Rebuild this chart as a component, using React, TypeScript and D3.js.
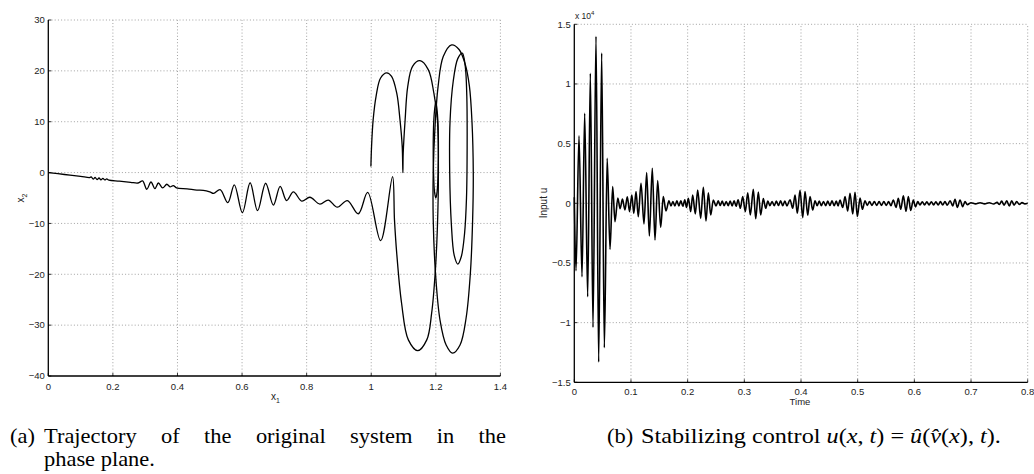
import React, { useLayoutEffect, useRef, useState } from 'react';
import * as d3 from 'd3';

type Pt = [number, number];

// ---- (a) phase plane axes ----
const phaseXTicks = [0, 0.2, 0.4, 0.6, 0.8, 1, 1.2, 1.4];
const phaseYTicks = [-40, -30, -20, -10, 0, 10, 20, 30];

// ---- (b) control axes (values in units of 10^4) ----
const controlXTicks = [0, 0.1, 0.2, 0.3, 0.4, 0.5, 0.6, 0.7, 0.8];
const controlYTicks = [-1.5, -1, -0.5, 0, 0.5, 1, 1.5];

// Trajectory (x1, x2): drift with ripples, lower lobe and the two upper arches
const driftPath: Pt[] = [
  [0, 0], [0.05, -0.38], [0.1, -0.75], [0.128, -0.98],
  [0.133, -0.85], [0.139, -1.3], [0.145, -0.95], [0.151, -1.4], [0.157, -1.05],
  [0.163, -1.45], [0.169, -1.15], [0.175, -1.45], [0.181, -1.25], [0.188, -1.5],
  [0.22, -1.68], [0.255, -1.92], [0.278, -2.05],
  [0.292, -1.65], [0.305, -3.28], [0.318, -1.85], [0.33, -3.15], [0.341, -2.05],
  [0.354, -3.0], [0.367, -2.3], [0.377, -2.8], [0.387, -2.55], [0.397, -3.0],
  [0.43, -3.2], [0.46, -3.45], [0.48, -3.5], [0.5, -3.8], [0.512, -4.1], [0.532, -3.35],
  [0.556, -5.9], [0.576, -2.4], [0.601, -7.9], [0.625, -2.0], [0.648, -7.5],
  [0.673, -2.1], [0.697, -6.4], [0.718, -2.7], [0.738, -5.5], [0.759, -3.8],
  [0.785, -5.6], [0.81, -4.85], [0.841, -6.2], [0.867, -5.4], [0.895, -6.8],
  [0.926, -5.5], [0.96, -8.1], [0.989, -3.9], [1.029, -13.4], [1.066, -0.8],
  [1.072, -9.3], [1.079, -15.9], [1.094, -25.7], [1.115, -32.9], [1.144, -35.0],
  [1.172, -32.9], [1.187, -27.7], [1.198, -19.8], [1.205, -10.6], [1.208, 0],
  [1.205, 10.4], [1.194, 15.6], [1.177, 20.2], [1.151, 22.0], [1.128, 20.9],
  [1.113, 16.9], [1.105, 10.4], [1.099, 3.8], [1.098, 0], [1.096, 5.1],
  [1.089, 10.4], [1.079, 15.6], [1.063, 18.9], [1.048, 19.6], [1.029, 18.6],
  [1.015, 15.0], [1.006, 10.4], [1.001, 5.1], [0.999, 1.2],
];

// Closed orbits near x1 = 1.2 .. 1.32
const outerOrbit: Pt[] = [
  [1.249, 25.1], [1.272, 24.2], [1.291, 21.3], [1.304, 17.0], [1.312, 10.0],
  [1.316, 0], [1.314, -9.3], [1.307, -19.8], [1.294, -28.5], [1.275, -33.9],
  [1.252, -35.5], [1.232, -33.9], [1.213, -29.0], [1.199, -19.8], [1.192, -9.3],
  [1.192, 0], [1.197, 8.4], [1.207, 16.9], [1.223, 22.8],
];
const innerOrbit: Pt[] = [
  [1.282, 23.5], [1.291, 21.0], [1.296, 15.0], [1.297, 5.0], [1.295, -5.0],
  [1.289, -12.0], [1.279, -16.5], [1.268, -18.0], [1.257, -16.3], [1.248, -10.0],
  [1.243, 0], [1.244, 10.0], [1.254, 18.0], [1.268, 22.4],
];
const narrowOrbit: Pt[] = [
  [1.2, 14.0], [1.205, 11.5], [1.208, 6.0], [1.207, 0], [1.204, -3.8],
  [1.2, -5.0], [1.196, -3.8], [1.193, 0], [1.192, 6.0], [1.195, 11.5],
];

// Control input u (time, value x 10^4), listed at its turning points
const controlInput: Pt[] = [
  [0.0, 0.05], [0.003, -0.565], [0.0083, 0.565], [0.0136, -0.616], [0.0183, 0.755],
  [0.0236, -0.783], [0.0283, 1.09], [0.033, -1.04], [0.0383, 1.4], [0.043, -1.33],
  [0.0483, 1.26], [0.053, -1.21], [0.058, 0.378], [0.063, -0.386], [0.0677, 0.14],
  [0.0718, -0.154], [0.0768, 0.045], [0.0808, -0.045], [0.085, 0.035], [0.0893, -0.055],
  [0.0935, 0.055], [0.0975, -0.07], [0.1015, 0.07], [0.105, -0.085],
  [0.1089, 0.098], [0.1129, -0.112], [0.1177, 0.168], [0.123, -0.173], [0.1277, 0.257],
  [0.1324, -0.274], [0.1376, 0.294], [0.1424, -0.308], [0.1471, 0.19], [0.1524, -0.201],
  [0.157, 0.056], [0.1618, -0.064],
  [0.167, 0.02], [0.1705, -0.022], [0.174, 0.015], [0.1775, -0.022], [0.181, 0.02],
  [0.1845, -0.022], [0.188, 0.022], [0.1915, -0.025], [0.195, 0.03], [0.198, -0.035],
  [0.2012, 0.042], [0.2054, -0.07], [0.2089, 0.07], [0.2135, -0.089], [0.2177, 0.112],
  [0.223, -0.126], [0.2277, 0.134], [0.2324, -0.148], [0.2365, 0.089], [0.2407, -0.098],
  [0.2453, 0.028], [0.25, -0.022],
  [0.254, 0.02], [0.2575, -0.018], [0.261, 0.018], [0.2645, -0.02], [0.268, 0.015],
  [0.2715, -0.02], [0.275, 0.018], [0.2785, -0.022], [0.282, 0.022], [0.2855, -0.025],
  [0.289, 0.03], [0.293, -0.042],
  [0.2971, 0.056], [0.3018, -0.07], [0.306, 0.089], [0.3106, -0.098], [0.3159, 0.117],
  [0.3201, -0.13], [0.3247, 0.095], [0.3289, -0.098], [0.3335, 0.04], [0.3377, -0.042],
  [0.3415, 0.018], [0.3452, -0.02], [0.349, 0.015], [0.3527, -0.02], [0.3565, 0.018],
  [0.3602, -0.018], [0.364, 0.02], [0.3677, -0.02], [0.3715, 0.018], [0.3752, -0.022],
  [0.3806, 0.03], [0.3854, -0.042], [0.3895, 0.07], [0.3935, -0.084], [0.3983, 0.108],
  [0.403, -0.12], [0.4071, 0.098], [0.4119, -0.1], [0.4159, 0.056], [0.4207, -0.056],
  [0.4248, 0.022],
  [0.4285, -0.02], [0.4322, 0.018], [0.436, -0.02], [0.4397, 0.015], [0.4435, -0.02],
  [0.4472, 0.018], [0.451, -0.018], [0.4547, 0.02], [0.4585, -0.02], [0.4622, 0.018],
  [0.4655, -0.022],
  [0.4688, 0.028], [0.4736, -0.035], [0.4777, 0.056], [0.4824, -0.065], [0.4865, 0.084],
  [0.4913, -0.09], [0.4953, 0.092], [0.4994, -0.11], [0.5042, 0.045], [0.5083, -0.05],
  [0.513, 0.022],
  [0.5168, -0.018], [0.521, 0.015], [0.5252, -0.018], [0.5294, 0.015], [0.5336, -0.018],
  [0.5378, 0.015], [0.542, -0.018], [0.5462, 0.015], [0.5504, -0.018], [0.5546, 0.015],
  [0.5588, -0.02],
  [0.5629, 0.028], [0.5677, -0.034], [0.5717, 0.042], [0.576, -0.05], [0.5806, 0.062],
  [0.5853, -0.068], [0.5894, 0.056], [0.5936, -0.06], [0.5982, 0.028], [0.602, -0.03],
  [0.606, 0.014], [0.61, -0.014], [0.614, 0.012], [0.618, -0.014], [0.622, 0.012],
  [0.626, -0.014], [0.63, 0.012], [0.634, -0.014], [0.638, 0.012], [0.642, -0.014],
  [0.646, 0.014], [0.65, -0.014], [0.654, 0.014], [0.658, -0.016],
  [0.663, 0.022], [0.6677, -0.022], [0.6718, 0.034], [0.6759, -0.034], [0.6806, 0.028],
  [0.6853, -0.028], [0.6894, 0.014], [0.6935, -0.012],
  [0.7, 0.005], [0.708, -0.005], [0.716, 0.005], [0.724, -0.005], [0.732, 0.005],
  [0.74, -0.006], [0.746, 0.008], [0.75, -0.01],
  [0.754, 0.018], [0.7583, -0.015], [0.763, 0.02], [0.7677, -0.022], [0.7718, 0.022],
  [0.7759, -0.015], [0.7806, 0.014], [0.7853, -0.01],
  [0.79, 0.006], [0.795, -0.005], [0.8, 0.0],
];

const SANS = "'Liberation Sans', Arial, Helvetica, sans-serif";
const SERIF = "'Liberation Serif', 'Times New Roman', serif";
const GRID = { stroke: '#8a8a8a', strokeWidth: 0.8, strokeDasharray: '1 2.2' };
const CAPTION_SIZE = 20.4;
const GLYPH_STRETCH = 1.1;

const fmt = (v: number) => String(v).replace('-', '\u2212');

export default function App() {
  // (a) scales
  const xA = d3.scaleLinear().domain([0, 1.4]).range([48.3, 500.4]);
  const yA = d3.scaleLinear().domain([-40, 30]).range([376, 20]);
  // (b) scales
  const xB = d3.scaleLinear().domain([0, 0.8]).range([574.3, 1027.7]);
  const yB = d3.scaleLinear().domain([-1.5, 1.5]).range([382.3, 24.3]);

  const openLine = d3.line<Pt>().x(d => xA(d[0])).y(d => yA(d[1])).curve(d3.curveCatmullRom.alpha(0.5));
  const closedLine = d3.line<Pt>().x(d => xA(d[0])).y(d => yA(d[1])).curve(d3.curveCatmullRomClosed.alpha(0.5));
  const controlLine = d3.line<Pt>().x(d => xB(d[0])).y(d => yB(d[1])).curve(d3.curveMonotoneX);

  // caption layout: the body of caption (a) is justified between x = 44 and x = 506
  const capA = useRef<SVGTextElement>(null);
  const capB = useRef<SVGTextElement>(null);
  const [wsA, setWsA] = useState(0);
  const [sxB, setSxB] = useState(GLYPH_STRETCH);
  useLayoutEffect(() => {
    if (capA.current) {
      const w = capA.current.getComputedTextLength();
      setWsA((462 / GLYPH_STRETCH - w) / 6);
    }
    if (capB.current) {
      const w = capB.current.getComputedTextLength();
      if (w > 0) setSxB(360 / w);
    }
  }, []);

  const [a0, a1] = xA.range();
  const [b0, b1] = xB.range();

  return (
    <div style={{ position: 'absolute', left: 0, top: 0 }}>
      <svg width={1034} height={474} style={{ display: 'block', background: '#fff' }}>
        {/* ---------- (a) ---------- */}
        <g>
          {phaseXTicks.filter(v => v > 0).map(v => (
            <line key={'gx' + v} x1={xA(v)} x2={xA(v)} y1={yA(-40)} y2={yA(30)} {...GRID} />
          ))}
          {phaseYTicks.filter(v => v > -40).map(v => (
            <line key={'gy' + v} x1={a0} x2={a1} y1={yA(v)} y2={yA(v)} {...GRID} />
          ))}
          <path d={openLine(driftPath) || ''} fill="none" stroke="#000" strokeWidth={1.3} strokeLinejoin="round" />
          <path d={closedLine(outerOrbit) || ''} fill="none" stroke="#000" strokeWidth={1.3} />
          <path d={closedLine(innerOrbit) || ''} fill="none" stroke="#000" strokeWidth={1.3} />
          <path d={closedLine(narrowOrbit) || ''} fill="none" stroke="#000" strokeWidth={1.3} />
          <line x1={a0} x2={a0} y1={yA(-40)} y2={yA(30)} stroke="#000" strokeWidth={1.3} />
          <line x1={a0} x2={a1} y1={yA(-40)} y2={yA(-40)} stroke="#000" strokeWidth={1.3} />
          {phaseYTicks.map(v => (
            <g key={'ty' + v}>
              <line x1={a0} x2={a0 + 3} y1={yA(v)} y2={yA(v)} stroke="#000" strokeWidth={0.8} />
              <text x={a0 - 3.5} y={yA(v)} dy="0.35em" textAnchor="end" fontFamily={SANS} fontSize={9.5} fill="#222">{fmt(v)}</text>
            </g>
          ))}
          {phaseXTicks.map(v => (
            <g key={'tx' + v}>
              <line x1={xA(v)} x2={xA(v)} y1={yA(-40)} y2={yA(-40) - 3} stroke="#000" strokeWidth={0.8} />
              <text x={xA(v)} y={389.5} textAnchor="middle" fontFamily={SANS} fontSize={9.5} fill="#222">{fmt(v)}</text>
            </g>
          ))}
          <text x={271} y={400} fontFamily={SANS} fontSize={10} fill="#222">
            x<tspan fontSize={7} dy={3}>1</tspan>
          </text>
          <text transform="translate(24,198) rotate(-90)" textAnchor="middle" fontFamily={SANS} fontSize={10} fill="#222">
            x<tspan fontSize={7} dy={3}>2</tspan>
          </text>
        </g>

        {/* ---------- (b) ---------- */}
        <g>
          {controlXTicks.filter(v => v > 0).map(v => (
            <line key={'gx' + v} x1={xB(v)} x2={xB(v)} y1={yB(-1.5)} y2={yB(1.5)} {...GRID} />
          ))}
          {controlYTicks.filter(v => v > -1.5).map(v => (
            <line key={'gy' + v} x1={b0} x2={b1} y1={yB(v)} y2={yB(v)} {...GRID} />
          ))}
          <path d={controlLine(controlInput) || ''} fill="none" stroke="#000" strokeWidth={1.6} strokeLinejoin="round" />
          <line x1={b0} x2={b0} y1={yB(-1.5)} y2={yB(1.5)} stroke="#000" strokeWidth={1.3} />
          <line x1={b0} x2={b1} y1={yB(-1.5)} y2={yB(-1.5)} stroke="#000" strokeWidth={1.3} />
          {controlYTicks.map(v => (
            <g key={'ty' + v}>
              <line x1={b0} x2={b0 + 3} y1={yB(v)} y2={yB(v)} stroke="#000" strokeWidth={0.8} />
              <text x={b0 - 3.5} y={yB(v)} dy="0.35em" textAnchor="end" fontFamily={SANS} fontSize={9.5} fill="#222">{fmt(v)}</text>
            </g>
          ))}
          {controlXTicks.map(v => (
            <g key={'tx' + v}>
              <line x1={xB(v)} x2={xB(v)} y1={yB(-1.5)} y2={yB(-1.5) - 3} stroke="#000" strokeWidth={0.8} />
              <text x={xB(v)} y={394.5} textAnchor="middle" fontFamily={SANS} fontSize={9.5} fill="#222">{fmt(v)}</text>
            </g>
          ))}
          <text x={575} y={19} fontFamily={SANS} fontSize={8.5} fill="#222">
            x 10<tspan fontSize={6} dy={-4}>4</tspan>
          </text>
          <text x={800} y={405} textAnchor="middle" fontFamily={SANS} fontSize={9.5} fill="#222">Time</text>
          <text transform="translate(547,203) rotate(-90)" textAnchor="middle" fontFamily={SANS} fontSize={10} fill="#222">Input u</text>
        </g>

        {/* ---------- captions ---------- */}
        <g transform={`translate(10,443) scale(${GLYPH_STRETCH},1)`}>
          <text x={0} y={0} fontFamily={SERIF} fontSize={CAPTION_SIZE} fill="#000">(a)</text>
        </g>
        <g transform={`translate(44,443) scale(${GLYPH_STRETCH},1)`}>
          <text ref={capA} x={0} y={0} fontFamily={SERIF} fontSize={CAPTION_SIZE} fill="#000" style={{ wordSpacing: `${wsA}px` }}>
            Trajectory of the original system in the
          </text>
        </g>
        <g transform={`translate(44,466) scale(${GLYPH_STRETCH},1)`}>
          <text x={0} y={0} fontFamily={SERIF} fontSize={CAPTION_SIZE} fill="#000">phase plane.</text>
        </g>
        <g transform={`translate(607,443) scale(${GLYPH_STRETCH},1)`}>
          <text x={0} y={0} fontFamily={SERIF} fontSize={CAPTION_SIZE} fill="#000">(b)</text>
        </g>
        <g transform={`translate(641,443) scale(${sxB},1)`}>
          <text ref={capB} x={0} y={0} fontFamily={SERIF} fontSize={CAPTION_SIZE} fill="#000">
            Stabilizing control <tspan fontStyle="italic">u</tspan>(<tspan fontStyle="italic">x</tspan>, <tspan fontStyle="italic">t</tspan>) = <tspan fontStyle="italic">û</tspan>(<tspan fontStyle="italic">v&#770;</tspan>(<tspan fontStyle="italic">x</tspan>), <tspan fontStyle="italic">t</tspan>).
          </text>
        </g>
      </svg>
    </div>
  );
}
